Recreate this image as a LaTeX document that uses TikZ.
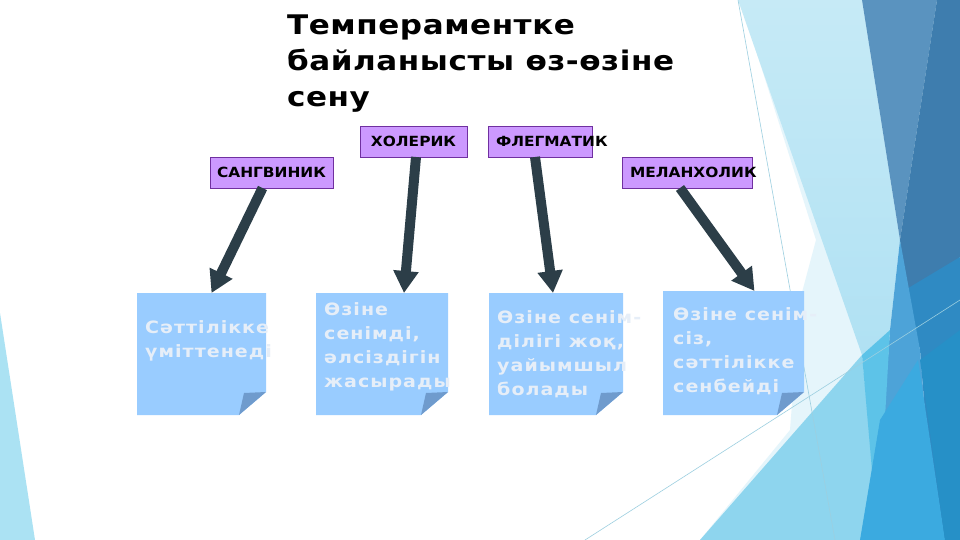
\documentclass[tikz,border=0pt]{standalone}
\usepackage{fontspec}
\setmainfont{DejaVu Sans}
\newfontfamily\titlefont{DejaVu Sans}[LetterSpace=2,FakeStretch=1.15]
\newfontfamily\labfont{DejaVu Sans}[FakeStretch=1.1]
\newfontfamily\notefont{DejaVu Sans}[LetterSpace=6,FakeStretch=1.12]
\usetikzlibrary{arrows.meta}
\definecolor{labfill}{RGB}{204,153,255}
\definecolor{labdraw}{RGB}{112,48,160}
\definecolor{notefill}{RGB}{153,204,255}
\definecolor{flapcol}{RGB}{111,155,205}
\definecolor{notetext}{RGB}{230,238,248}
\definecolor{arrcol}{RGB}{44,62,72}
\definecolor{bgpale}{RGB}{229,245,251}
\definecolor{bglightA}{RGB}{198,234,246}
\definecolor{bglightB}{RGB}{176,225,243}
\definecolor{bgsteel}{RGB}{90,147,191}
\definecolor{bgdsteel}{RGB}{62,125,174}
\definecolor{bgblue2}{RGB}{47,138,195}
\definecolor{bgmid}{RGB}{77,163,216}
\definecolor{bgcyan1}{RGB}{142,213,238}
\definecolor{bgcyan2}{RGB}{93,195,232}
\definecolor{bgblue3}{RGB}{59,170,224}
\definecolor{bgblue4}{RGB}{38,144,199}
\definecolor{bgleft}{RGB}{171,226,243}
\definecolor{bgline}{RGB}{156,207,224}
\begin{document}
\begin{tikzpicture}[x=1pt,y=-1pt,
  lab/.style={draw=labdraw, fill=labfill, line width=0.8pt, minimum height=31pt,
    inner sep=0pt, outer sep=0pt, anchor=north west,
    font=\labfont\bfseries\fontsize{14}{16}\selectfont},
  note/.style={minimum height=122pt, inner sep=0pt, outer sep=0pt, anchor=north west},
  arr/.style={draw=arrcol, line width=10pt, -{Triangle[width=24pt,length=22pt]}},
  ntext/.style={anchor=north west, inner sep=0pt, align=left, text=notetext,
    font=\notefont\bfseries\fontsize{17}{24}\selectfont},
  flap/.style={fill=flapcol},
  nfill/.style={fill=notefill}
]
\useasboundingbox (0,0) rectangle (960,540);
\fill[white] (0,0) rectangle (960,540);
% background decoration
\fill[bgleft] (0,313) -- (35,540) -- (0,540) -- cycle;
\fill[bgpale] (740,0) -- (960,0) -- (960,540) -- (700,540) -- (790,430) -- (800,300) -- (816,240) -- cycle;
\shade[top color=bglightA, bottom color=bglightB]
  (738,0) -- (862,0) -- (900,240) -- (890,330) -- (862,355) -- cycle;
\fill[bgsteel] (862,0) -- (937,0) -- (900,240) -- cycle;
\fill[bgdsteel] (937,0) -- (960,0) -- (960,257) -- (907,300) -- (900,240) -- cycle;
\fill[bgblue2] (905,290) -- (960,257) -- (960,540) -- (935,540) -- (920,350) -- cycle;
\fill[bgmid] (900,240) -- (920,350) -- (935,540) -- (875,540) -- (890,330) -- cycle;
\fill[bgcyan1] (700,540) -- (862,355) -- (880,540) -- cycle;
\fill[bgcyan2] (862,355) -- (890,330) -- (878,540) -- cycle;
\fill[bgblue3] (880,420) -- (918,360) -- (945,540) -- (860,540) -- cycle;
\fill[bgblue4] (920,360) -- (960,330) -- (960,540) -- (945,540) -- cycle;
\draw[bgline, line width=0.6pt] (738,0) -- (835,540);
\draw[bgline, line width=0.6pt] (585,540) -- (960,300);
% title
\node[anchor=north west, inner sep=0pt, align=left,
  font=\titlefont\bfseries\fontsize{27}{36}\selectfont] (title) at (287,15)
  {Темпераментке\\байланысты өз-өзіне\\сену};
% label boxes
\node[lab, minimum width=123pt] (sang) at (210,157) {САНГВИНИК};
\node[lab, minimum width=107pt] (hol) at (360,126) {ХОЛЕРИК};
\node[lab, minimum width=104pt, text width=88pt, align=left] (fleg) at (488,126) {ФЛЕГМАТИК};
\node[lab, minimum width=130pt, text width=114pt, align=left] (mel) at (622,157) {МЕЛАНХОЛИК};
% notes
\node[note, minimum width=129pt] (n1) at (137,293) {};
\node[note, minimum width=132pt] (n2) at (316,293) {};
\node[note, minimum width=134pt] (n3) at (489,293) {};
\node[note, minimum width=141pt, minimum height=124pt] (n4) at (663,291) {};
\foreach \n in {n1,n2,n3,n4}{
  \fill[nfill] (\n.north west) -- (\n.north east) -- ([yshift=23pt]\n.south east)
    -- ([xshift=-27pt]\n.south east) -- (\n.south west) -- cycle;
  \fill[flap] ([yshift=23pt]\n.south east) -- ([xshift=-22pt,yshift=22pt]\n.south east)
    -- ([xshift=-27pt]\n.south east) -- cycle;
}
\node[ntext] (t1) at (145,320) {Сәттілікке\\үміттенеді};
\node[ntext] (t2) at (324,302) {Өзіне\\сенімді,\\әлсіздігін\\жасырады};
\node[ntext] (t3) at (497,310) {Өзіне сенім-\\ділігі жоқ,\\уайымшыл\\болады};
\node[ntext] (t4) at (673,307) {Өзіне сенім-\\сіз,\\сәттілікке\\сенбейді};
% arrows
\draw[arr] ([xshift=-9pt]sang.south) -- ([xshift=10pt]n1.north);
\draw[arr] ([xshift=2.5pt]hol.south) -- ([xshift=22pt]n2.north);
\draw[arr] ([xshift=-5pt]fleg.south) -- ([xshift=-3pt]n3.north);
\draw[arr] ([xshift=-7pt]mel.south) -- ([xshift=21pt]n4.north);
\end{tikzpicture}
\end{document}
